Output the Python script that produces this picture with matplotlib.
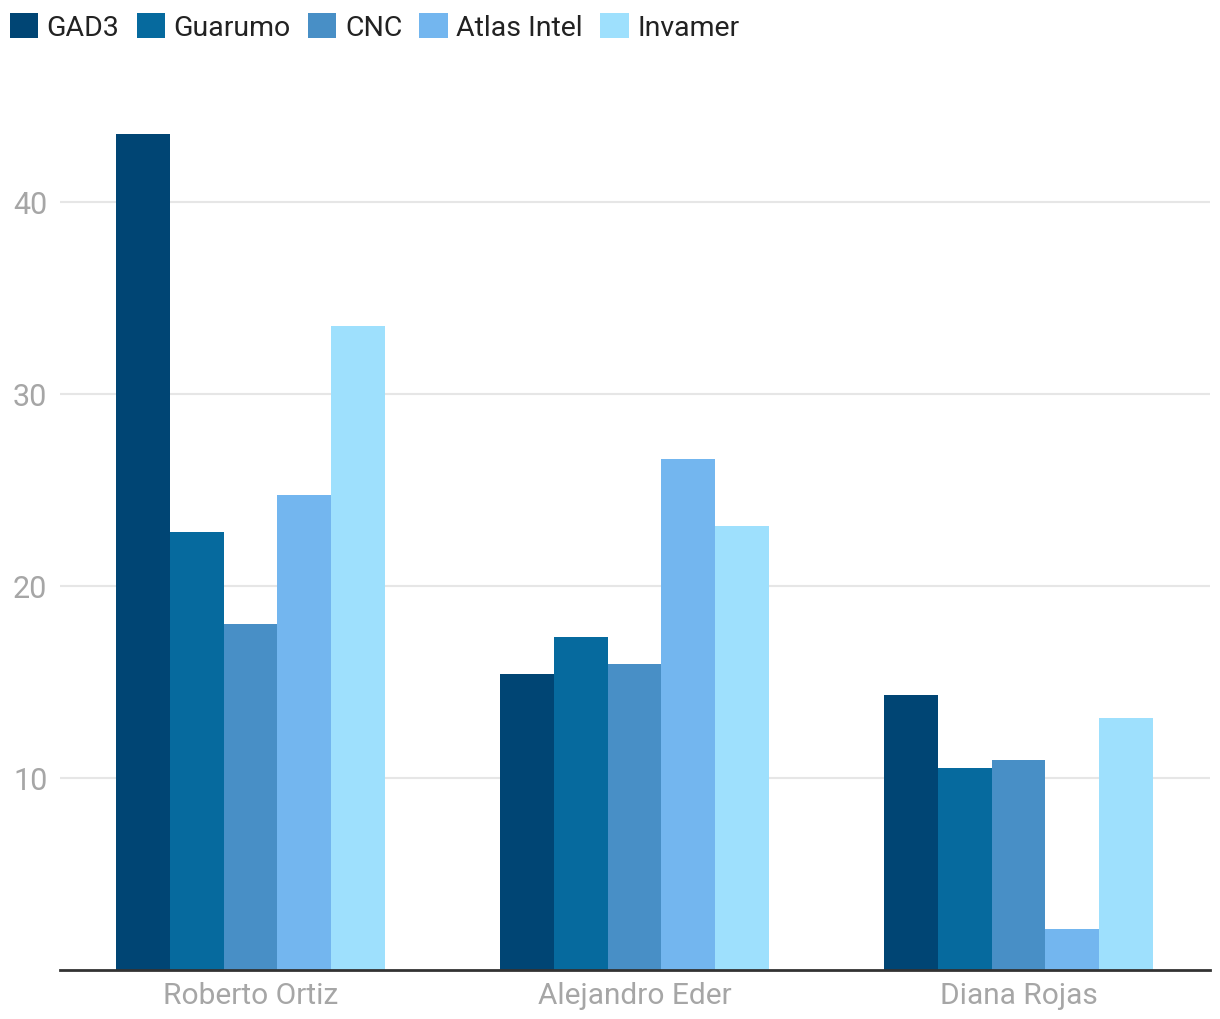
import matplotlib
matplotlib.use("Agg")
import matplotlib.pyplot as plt
import numpy as np

plt.rcParams['font.family'] = ["Roboto", "DejaVu Sans"]

categories = ["Roberto Ortiz", "Alejandro Eder", "Diana Rojas"]
series = ["GAD3", "Guarumo", "CNC", "Atlas Intel", "Invamer"]
gad3 = [43.5, 15.4, 14.3]
guarumo = [22.8, 17.3, 10.5]
cnc = [18.0, 15.9, 10.9]
atlas = [24.7, 26.6, 2.1]
invamer = [33.5, 23.1, 13.1]
values = [gad3, guarumo, cnc, atlas, invamer]
colors = ["#004574", "#066a9e", "#488fc6", "#73b6ef", "#9ee0fd"]
yticks = [10, 20, 30, 40]

fig = plt.figure(figsize=(12.2, 10.2), dpi=100)
bottom_px = 970.5
top_px = bottom_px - 46 * 19.2
ax = fig.add_axes([60/1220, 1 - bottom_px/1020, 1150/1220, (bottom_px - top_px)/1020])

x = np.arange(len(categories))
w = 0.14
for i, (s, v, c) in enumerate(zip(series, values, colors)):
    ax.bar(x + (i - 2) * w, v, width=w, color=c, label=s, zorder=3, linewidth=0)

ax.set_xlim(-0.496, 2.499)
ax.set_ylim(0, 46)
ax.set_yticks(yticks)
ax.set_yticklabels([str(t) for t in yticks])
ax.set_xticks(x)
ax.set_xticklabels(categories)
ax.grid(axis='y', color='#e6e6e6', linewidth=1.5, zorder=0)
for s in ['top', 'right', 'left']:
    ax.spines[s].set_visible(False)
ax.spines['bottom'].set_color('#333333')
ax.spines['bottom'].set_linewidth(2)
ax.spines['bottom'].set_zorder(4)
ax.tick_params(axis='y', length=0, labelsize=22, labelcolor='#a6a6a6', pad=9)
ax.tick_params(axis='x', length=0, labelsize=21.5, labelcolor='#a6a6a6', pad=8)

leg = fig.legend(loc='upper left', bbox_to_anchor=(4/1220, 1 - 8/1020), ncol=5,
                 frameon=False, fontsize=20.5, handlelength=1.0, handleheight=1.0,
                 handletextpad=0.3, columnspacing=0.6, borderaxespad=0,
                 borderpad=0.2)
for t in leg.get_texts():
    t.set_color('#222222')

fig.savefig("out.png", dpi=100, facecolor='white')
